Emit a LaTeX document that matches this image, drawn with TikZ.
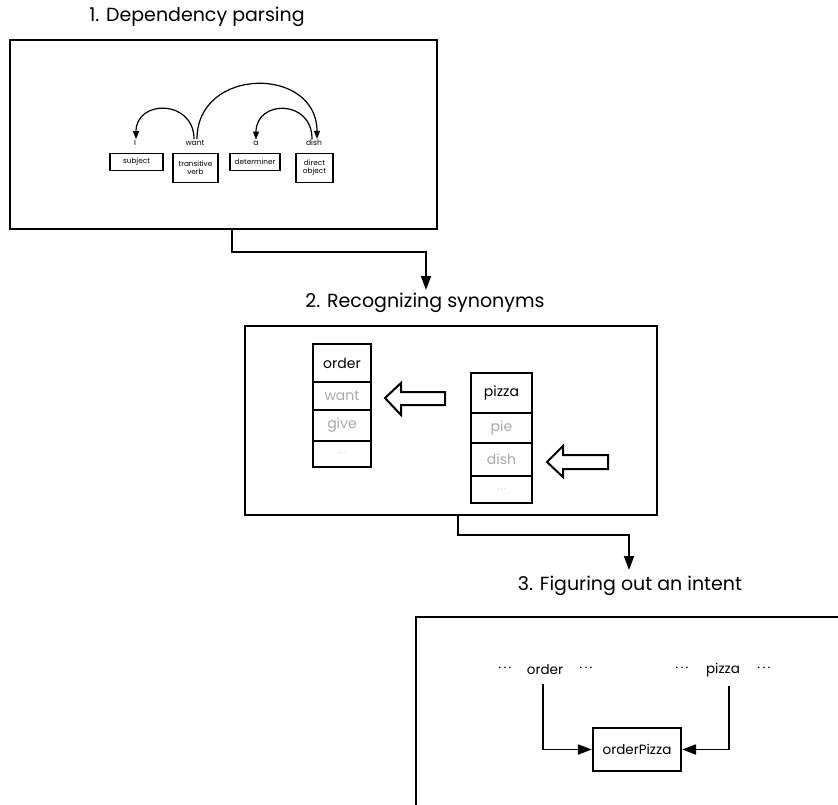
\documentclass[tikz,border=0pt]{standalone}
\usepackage{fontspec}
\setmainfont{Poppins}
\usetikzlibrary{arrows.meta,calc}
\definecolor{syn}{HTML}{A8A8A8}
\newcommand{\mydots}{·\,·\,·}
\begin{document}
\begin{tikzpicture}[x=1pt,y=-1pt,
  frame/.style={draw, line width=2.4pt, inner sep=0pt},
  title/.style={font=\fontsize{19}{22}\selectfont, inner sep=1pt},
  word/.style={font=\fontsize{7.6}{9}\selectfont, inner sep=1pt},
  role/.style={draw, line width=1.1pt, font=\fontsize{7.3}{8.2}\selectfont, align=center, inner sep=0.5pt, anchor=north},
  cellA/.style={draw, line width=2pt, minimum width=58pt, font=\fontsize{14}{16}\selectfont, inner sep=0pt},
  cellB/.style={draw, line width=2pt, minimum width=61pt, font=\fontsize{14}{16}\selectfont, inner sep=0pt},
  syntext/.style={text=syn},
  hollow/.style={draw, line width=2pt, fill=white, line join=miter},
  depark/.style={line width=1.2pt, -{Triangle[length=8pt,width=6pt]}},
  conn/.style={line width=1.8pt, -{Triangle[length=14pt,width=10pt]}},
  big/.style={font=\fontsize{13.5}{16}\selectfont, inner sep=1pt}
]
\useasboundingbox (0,0) rectangle (838,805);

% ---------- 1. Dependency parsing ----------
\node[title] (title1) at (197,17) {1. Dependency parsing};
\node[frame, minimum width=427pt, minimum height=189pt] (box1) at (223.5,134.5) {};

\node[word] (wI) at (135,143) {I};
\node[word] (wwant) at (195,143) {want};
\node[word] (wa) at (256,143) {a};
\node[word] (wdish) at (314,143) {dish};

\node[role, minimum width=53pt, minimum height=17pt] (rsubj) at (136.5,153) {subject};
\node[role, minimum width=45pt, minimum height=29pt] (rverb) at (195.5,153) {transitive\\verb};
\node[role, minimum width=50pt, minimum height=17pt] (rdet) at (255,153) {determiner};
\node[role, minimum width=37pt, minimum height=29pt] (robj) at (314.5,153) {direct\\object};

\draw[depark] ($(wwant.north)+(-1,0)$) .. controls +(0,-40) and +(0,-40) .. ($(wI.north)+(1,0)$);
\draw[depark] ($(wwant.north)+(2,0)$) .. controls +(0,-73) and +(0,-73) .. ($(wdish.north)+(3,0)$);
\draw[depark] ($(wdish.north)+(-2,0)$) .. controls +(0,-40) and +(0,-40) .. (wa.north);

% connector 1 -> 2
\node[title] (title2) at (425,303) {2. Recognizing synonyms};
\coordinate (c1) at (232,252);
\coordinate (t2) at (426,290);
\draw[conn] (box1.south -| c1) -- (c1) -- (c1 -| t2) -- (t2);

% ---------- 2. Recognizing synonyms ----------
\node[frame, minimum width=412pt, minimum height=189pt] (box2) at (451,420.5) {};

\node[cellA, minimum height=38pt] (corder) at (342,363) {order};
\node[cellA, minimum height=28pt, syntext] (cwant) at (342,396) {want};
\node[cellA, minimum height=31pt, syntext] (cgive) at (342,425.5) {give};
\node[cellA, minimum height=26pt, syntext, font=\fontsize{8}{9}\selectfont] (cdotsA) at (342,454) {\mydots};

\node[cellB, minimum height=40pt] (cpizza) at (501.5,393) {pizza};
\node[cellB, minimum height=30pt, syntext] (cpie) at (501.5,428) {pie};
\node[cellB, minimum height=33pt, syntext] (cdish) at (501.5,459.5) {dish};
\node[cellB, minimum height=27pt, syntext, font=\fontsize{8}{9}\selectfont] (cdotsB) at (501.5,489.5) {\mydots};

\draw[hollow] (385,398) -- (401,383) -- (401,392) -- (445,392) -- (445,405) -- (401,405) -- (401,415) -- cycle;
\draw[hollow] (547,462) -- (563,446) -- (563,455) -- (608,455) -- (608,469) -- (563,469) -- (563,477) -- cycle;

% connector 2 -> 3
\node[title] (title3) at (630,586) {3. Figuring out an intent};
\coordinate (c2) at (458,535);
\coordinate (t3) at (629,570);
\draw[conn] (box2.south -| c2) -- (c2) -- (c2 -| t3) -- (t3);

% ---------- 3. Figuring out an intent ----------
\draw[line width=2.4pt] (845,617) -- (416,617) -- (416,812);

\node[big] (dA1) at (505,670) {\mydots};
\node[big] (worder) at (545,670) {order};
\node[big] (dA2) at (586,670) {\mydots};
\node[big] (dB1) at (682,670) {\mydots};
\node[big] (wpizza) at (723,670) {pizza};
\node[big] (dB2) at (764,670) {\mydots};

\node[draw, line width=2.2pt, minimum width=88pt, minimum height=43pt, big] (op) at (637,749.5) {orderPizza};

\draw[conn] ($(worder.south)+(-2,8)$) |- (op.west);
\draw[conn] ($(wpizza.south)+(6,8)$) |- (op.east);
\end{tikzpicture}
\end{document}
